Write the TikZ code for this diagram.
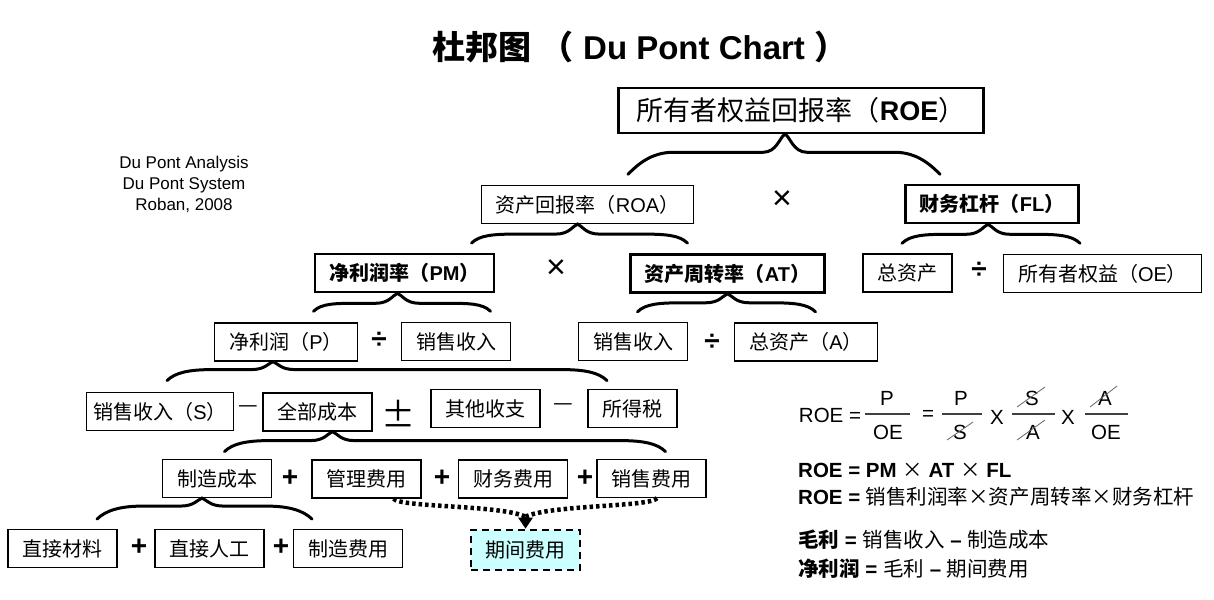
\documentclass[tikz,border=0pt]{standalone}
\usepackage{fontspec}
\setmainfont{Liberation Sans}
\newfontfamily\zh{Noto Sans CJK SC}
\newfontfamily\lat{Liberation Sans}
\usetikzlibrary{arrows.meta}
\definecolor{periodcyan}{HTML}{CCFFFF}

\begin{document}
\begin{tikzpicture}[x=1pt, y=-1pt,
  box/.style={draw, line width=1.2pt, minimum height=38pt, inner xsep=14.5pt, inner ysep=2pt,
    font=\fontsize{20}{24}\selectfont\zh},
  keybox/.style={box, line width=2.6pt, font=\fontsize{20}{24}\selectfont\zh\bfseries},
  op/.style={inner sep=0pt, font=\fontsize{28}{30}\selectfont\lat\bfseries},
  timesop/.style={inner sep=0pt, font=\fontsize{34}{36}\selectfont\lat},
  minusop/.style={inner sep=0pt, font=\fontsize{22}{24}\selectfont\zh},
  brace/.style={line width=3pt, line cap=round},
  dotline/.style={line width=4.5pt, dash pattern=on 3.5pt off 3pt},
  eq/.style={inner sep=0pt, font=\fontsize{20.5}{24}\selectfont\lat},
  eqline/.style={eq, anchor=base west},
  strike/.style={line width=0.8pt, black!60}]

  \useasboundingbox (0,0) rectangle (1214,599);

  % Title and credit
  \node (title) at (640,47) {\fontsize{33}{36}\selectfont\bfseries{\zh 杜邦图} {\zh （} Du Pont Chart {\zh ）}};
  \node[align=center, font=\fontsize{17}{21}\selectfont] (credit) at (184,184) {Du Pont Analysis\\Du Pont System\\Roban, 2008};

  % Level 1
  \node[keybox, inner xsep=18pt, minimum height=45pt, font=\fontsize{27}{30}\selectfont\zh] (roe) at (801,110.5) {所有者权益回报率（{\lat\bfseries ROE}）};

  % Level 2
  \node[box] (roa) at (587.5,204.5) {资产回报率（{\lat ROA}）};
  \node[timesop] (x1) at (782,200) {×};
  \node[keybox] (lev) at (992,204) {财务杠杆（{\lat FL}）};

  % Level 3
  \node[keybox] (margin) at (404.5,273) {净利润率（{\lat PM}）};
  \node[timesop] (x2) at (556,269) {×};
  \node[keybox] (turn) at (727.5,273.5) {资产周转率（{\lat AT}）};
  \node[box] (assets) at (907.5,273) {总资产};
  \node[op] (d3) at (979,270) {÷};
  \node[box] (equity) at (1102.5,273.5) {所有者权益（{\lat OE}）};

  % Level 4
  \node[box] (profit) at (286,342) {净利润（{\lat P}）};
  \node[op] (d1) at (379,340) {÷};
  \node[box] (sales1) at (456,341.5) {销售收入};
  \node[box] (sales2) at (633,341.5) {销售收入};
  \node[op] (d2) at (712,342) {÷};
  \node[box] (assets2) at (806,342) {总资产（{\lat A}）};

  % Level 5
  \node[box, inner xsep=6.5pt] (salesS) at (160,411.5) {销售收入（{\lat S}）};
  \node[minusop] (m1) at (248,409) {—};
  \node[box] (cost) at (317.5,412) {全部成本};
  \node[inner sep=0pt, font=\fontsize{34}{36}\selectfont\zh] (pmn) at (398,414) {±};
  \node[box] (other) at (485.5,408.5) {其他收支};
  \node[minusop] (m2) at (563,407) {—};
  \node[box] (tax) at (632.5,408.5) {所得税};

  % Level 6
  \node[box] (mfg) at (217,478.5) {制造成本};
  \node[op] (p1) at (290,478) {+};
  \node[box] (admin) at (366.5,479) {管理费用};
  \node[op] (p2) at (442,478) {+};
  \node[box] (fin) at (513,479) {财务费用};
  \node[op] (p3) at (585,478) {+};
  \node[box] (selling) at (651.5,478.5) {销售费用};

  % Level 7
  \node[box] (mat) at (62.5,548.5) {直接材料};
  \node[op] (p4) at (139,547) {+};
  \node[box] (labor) at (209.5,548.5) {直接人工};
  \node[op] (p5) at (281,547) {+};
  \node[box] (overhead) at (348,548.5) {制造费用};
  \node[box, line width=2.6pt, dash pattern=on 7pt off 5pt, fill=periodcyan, minimum height=40pt] (period) at (525.5,550) {期间费用};

  % Braces: parent / tip shift / left / right / flat / drop
  \foreach \bn/\bx/\bl/\br/\bh/\bd in {roe/-16/157/155/18/40, roa/-10/106/110/10/19,
      lev/-4/86/92/10/19, margin/-7/84/93/10/18, turn/0/90/88/9/18,
      profit/-13/106/334/8/19, cost/15/108/333/9/20, mfg/-15/105/110/8/21} {
    \begin{scope}[shift={(\bn.south)}, xshift=\bx]
      \draw[brace] (-\bl,\bd) .. controls (-\bl+8,\bd-8) and (-\bl+22,\bh) .. (-\bl+45,\bh)
        -- (-22,\bh) .. controls (-8,\bh) and (-5,2) .. (0,0)
        .. controls (5,2) and (8,\bh) .. (22,\bh) -- (\br-45,\bh)
        .. controls (\br-22,\bh) and (\br-8,\bd-8) .. (\br,\bd);
    \end{scope}
  }

  % Period expenses
  \coordinate (join) at ([yshift=12pt]period.north);
  \draw[dotline] ([xshift=27pt]admin.south) .. controls +(6,9) and +(-25,-12) .. (join);
  \draw[dotline] ([xshift=5.5pt]selling.south) .. controls +(-6,9) and +(25,-12) .. (join);
  \draw[line width=3pt, -{Triangle[width=14pt,length=11pt]}] (join) -- (period.north);

  % Formula
  \node[eq] (f0) at (830,415) {ROE =};
  \node[eq] (n1) at (887,398) {P};
  \node[eq] (q1) at (888,432) {OE};
  \node[eq] (e1) at (928,415) {=};
  \node[eq] (n2) at (961,398) {P};
  \node[eq] (q2) at (960,432) {S};
  \node[eq] (t1) at (997,417) {X};
  \node[eq] (n3) at (1032,398) {S};
  \node[eq] (q3) at (1033,432) {A};
  \node[eq] (t2) at (1068,417) {X};
  \node[eq] (n4) at (1105,398) {A};
  \node[eq] (q4) at (1106,432) {OE};
  \foreach \xa/\xb in {865/910, 942/982, 1012/1055, 1085/1128}
    \draw[line width=1.2pt, black!75] (\xa,414) -- (\xb,414);
  \draw[strike] (947,440) -- (973,422);
  \draw[strike] (1017,407) -- (1045,387);
  \draw[strike] (1017,440) -- (1045,420);
  \draw[strike] (1090,407) -- (1117,386);

  \node[eqline] (l1) at (798,477) {\textbf{ROE = PM }{\zh ×}\textbf{ AT }{\zh ×}\textbf{ FL}};
  \node[eqline] (l2) at (798,504) {\textbf{ROE =} {\zh 销售利润率×资产周转率×财务杠杆}};
  \node[eqline] (l3) at (798,547) {{\zh\bfseries 毛利} \textbf{=} {\zh 销售收入} \textbf{–} {\zh 制造成本}};
  \node[eqline] (l4) at (798,576) {{\zh\bfseries 净利润} \textbf{=} {\zh 毛利} \textbf{–} {\zh 期间费用}};
\end{tikzpicture}
\end{document}
